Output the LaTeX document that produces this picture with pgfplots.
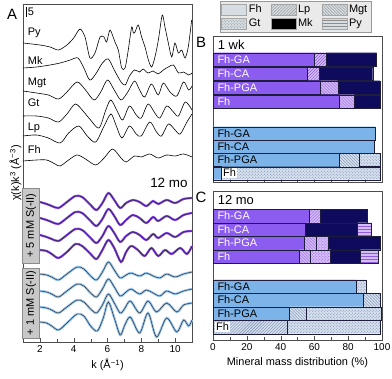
\documentclass[border=0pt]{standalone}
\usepackage{fontspec}
\setmainfont{Liberation Sans}
\usepackage{pgfplots}
\pgfplotsset{compat=1.18}
\usepackage{pgfplotstable}
\usetikzlibrary{patterns}

\definecolor{pfill}{RGB}{140,92,240}
\definecolor{pnavy}{RGB}{14,10,92}
\definecolor{pbg}{RGB}{214,188,248}
\definecolor{pline}{RGB}{140,92,220}
\definecolor{bfill}{RGB}{124,180,234}
\definecolor{bbg}{RGB}{214,224,238}
\definecolor{bline}{RGB}{120,140,175}
\definecolor{pcurve}{RGB}{126,62,228}
\definecolor{bcurve}{RGB}{150,198,240}
\definecolor{tagbg}{RGB}{200,200,200}
\definecolor{legbg}{RGB}{234,234,234}
\definecolor{fhgray}{RGB}{214,222,228}
\definecolor{bordc}{RGB}{30,30,60}

% sample spectra (offset, arbitrary units)
\pgfplotstableread{
k y
2.0 140
2.4 138
2.7 136
3.1 134
3.6 140
4.1 146
4.5 145
5.0 137
5.35 132
5.7 139
6.05 149
6.4 142
6.75 134
7.1 139
7.5 142
7.9 140
8.3 136
8.7 141
9.0 138
9.5 142
10.0 139
10.5 143
11.0 144
}\spA
\pgfplotstableread{
k y
2.0 124
2.4 122
2.7 120
3.1 118
3.6 124
4.1 130
4.5 129
5.0 121
5.35 116
5.7 123
6.05 133
6.4 126
6.75 117
7.1 122
7.5 127
7.9 124
8.3 119
8.7 125
9.0 121
9.5 126
10.0 122
10.5 127
11.0 129
}\spB
\pgfplotstableread{
k y
2.0 107
2.4 105
2.7 103
3.1 101
3.6 107
4.1 113
4.5 112
5.0 104
5.35 99
5.7 106
6.05 116
6.4 109
6.75 100
7.1 106
7.5 110
7.9 107
8.3 102
8.7 108
9.0 104
9.5 109
10.0 105
10.5 110
11.0 111
}\spC
\pgfplotstableread{
k y
2.0 92
2.4 91
2.7 88
3.1 84
3.6 90
4.1 98
4.5 96
5.0 88
5.35 83
5.7 92
6.05 102
6.4 94
6.8 80
7.1 90
7.4 96
7.8 92
8.2 86
8.6 94
9.0 86
9.4 92
9.8 88
10.3 94
10.7 88
11.0 96
}\spD
\pgfplotstableread{
k y
2.0 68
2.4 67
2.7 65
3.1 62
3.6 68
4.2 75
4.6 73
5.0 66
5.35 62
5.7 70
6.05 80
6.4 72
6.75 64
7.1 67
7.4 69
7.9 66
8.3 69
8.7 66
9.1 64
9.5 68
10.0 65
10.5 68
11.0 70
}\sbA
\pgfplotstableread{
k y
2.0 51
2.4 50
2.7 48
3.1 45
3.6 51
4.2 58
4.6 56
5.0 49
5.35 45
5.7 53
6.05 63
6.4 55
6.75 46
7.1 50
7.4 53
7.9 48
8.3 52
8.7 49
9.1 46
9.5 51
10.0 48
10.5 51
11.0 53
}\sbB
\pgfplotstableread{
k y
2.0 35
2.4 34
2.7 32
3.1 29
3.6 35
4.2 42
4.6 40
5.0 33
5.35 29
5.7 37
6.05 48
6.4 39
6.75 29
7.0 33
7.35 41
7.9 29
8.4 41
8.9 30
9.5 39
10.1 30
10.5 37
11.0 39
}\sbC
\pgfplotstableread{
k y
2.0 20
2.4 19
2.7 16
3.1 12
3.6 19
4.2 28
4.6 26
5.0 16
5.4 11
5.75 24
6.05 40
6.4 24
6.75 7
7.0 16
7.35 25
7.9 9
8.4 29
8.9 5
9.5 24
10.1 10
10.5 22
10.8 16
11.0 22
}\sbD

\pgfplotsset{
  common/.style={scale only axis, anchor=south west, width=169bp,
    axis line style={black!70}, tick style={black!70},
    tick align=inside, xtick pos=left, ytick=\empty,
    major tick length=4bp, minor tick length=2.5bp,
    /pgf/number format/assume math mode=true,
    tick label style={font=\fontsize{10}{12}\selectfont},
    label style={font=\fontsize{11}{13}\selectfont},
    clip=false},
  barax/.style={common, xbar stacked, bar width=13.5,
    xmin=0, xmax=100, ymin=0, xtick={0,20,...,100}, minor x tick num=1},
  labax/.style={scale only axis, anchor=south west, width=169bp, hide axis,
    xmin=0, xmax=100, ymin=0, clip=false},
  segm/.style={draw=bordc, line width=0.4pt},
  Pfh/.style={segm, fill=pfill},
  Plp/.style={segm, fill=pbg, postaction={pattern=north east lines, pattern color=pline}},
  Pmg/.style={segm, fill=pbg, postaction={pattern=north west lines, pattern color=pline}},
  Pgt/.style={segm, fill=pbg, postaction={pattern=crosshatch dots, pattern color=pline}},
  Pmk/.style={segm, fill=pnavy},
  Ppy/.style={segm, fill=pbg, postaction={pattern=horizontal lines, pattern color=pline}},
  Bfh/.style={segm, fill=bfill},
  Blp/.style={segm, fill=bbg, postaction={pattern=north east lines, pattern color=bline}},
  Bmg/.style={segm, fill=bbg, postaction={pattern=north west lines, pattern color=bline}},
  Bgt/.style={segm, fill=bbg, postaction={pattern=crosshatch dots, pattern color=bline}},
  fitP/.style={pcurve, line width=2.2pt, smooth, tension=0.5},
  fitB/.style={bcurve, line width=2.4pt, smooth, tension=0.5},
  dat/.style={black!85, line width=0.45pt, smooth, tension=0.5},
  ref/.style={black, line width=0.6pt, smooth, tension=0.5},
}
\tikzset{barlab/.style={anchor=west, font=\fontsize{11}{12}\selectfont}}

\begin{document}
\begin{tikzpicture}
\useasboundingbox (0,0) rectangle (392bp,379bp);

% ---------------- panel A ----------------
\begin{axis}[common, at={(23bp,37bp)}, height=338bp,
  xmin=1, xmax=11, ymin=0, ymax=338,
  xtick={2,4,...,10}, minor xtick={3,5,7,9},
  xlabel={k (Å\textsuperscript{−1})},
  ylabel={χ(k)k\textsuperscript{3} (Å\textsuperscript{−3})},
  ylabel style={yshift=-2bp}]

% references
\addplot[ref, tension=0.45] coordinates {
(1.0,299)(2.0,297)(2.6,295)(3.1,292)(3.6,297)(4.0,304)(4.37,313)(4.67,305)
(4.96,284)(5.26,289)(5.56,305)(5.79,305)(5.95,300)(6.15,312)(6.44,300)
(6.64,292)(6.84,274)(7.04,274)(7.23,292)(7.43,315)(7.53,309)(7.63,310)
(7.82,317)(8.02,305)(8.22,295)(8.42,282)(8.61,275)(8.81,285)(9.01,302)
(9.24,327)(9.40,315)(9.60,299)(9.80,285)(9.99,299)(10.19,289)(10.39,292)
(10.59,284)(10.78,295)(10.98,322)};
\addplot[ref] coordinates {
(1.0,274)(1.8,275)(2.6,277)(3.2,279)(3.8,282)(4.25,284)(4.6,274)(4.95,262)
(5.3,268)(5.7,279)(6.05,283)(6.4,272)(6.8,260)(7.05,257)(7.3,266)(7.6,272)
(7.9,270)(8.1,273)(8.4,269)(8.7,271)(9.0,268)(9.3,272)(9.6,275)(9.9,277)
(10.2,269)(10.5,270)(10.8,267)(11.0,269)};
\addplot[ref] coordinates {
(1.0,251)(1.8,249)(2.5,247)(3.1,243)(3.6,250)(4.2,260)(4.7,252)(5.2,242)
(5.6,250)(6.0,262)(6.4,252)(6.8,242)(7.2,250)(7.6,261)(7.9,252)(8.2,245)
(8.6,258)(9.0,247)(9.3,259)(9.7,250)(10.1,246)(10.5,260)(10.8,252)(11.0,256)};
\addplot[ref] coordinates {
(1.0,226)(1.8,226)(2.5,224)(3.1,220)(3.6,228)(4.1,238)(4.6,230)(5.0,222)
(5.5,214)(5.9,232)(6.2,242)(6.6,230)(6.9,222)(7.3,236)(7.7,227)(8.0,224)
(8.4,238)(8.8,229)(9.1,224)(9.5,236)(9.9,230)(10.2,226)(10.6,240)(11.0,232)};
\addplot[ref] coordinates {
(1.0,206)(1.8,207)(2.5,204)(3.2,199)(3.7,209)(4.3,216)(4.8,206)(5.3,200)
(5.8,216)(6.2,228)(6.5,217)(6.85,204)(7.3,216)(7.7,208)(8.0,206)(8.5,220)
(8.9,210)(9.2,206)(9.6,218)(10.0,212)(10.3,208)(10.7,220)(11.0,228)};
\addplot[ref] coordinates {
(1.0,181)(1.8,182)(2.4,182)(2.9,178)(3.2,176)(3.7,182)(4.2,187)(4.7,183)
(5.3,177)(5.8,184)(6.3,193)(6.8,184)(7.1,180)(7.6,186)(8.0,185)(8.5,188)
(9.0,184)(9.5,187)(10.0,186)(10.5,188)(11.0,185)};

% samples: fit (thick colour) with data (thin black)
\addplot[fitP] table[x=k,y=y]{\spA};
\addplot[dat] table[x=k,y=y]{\spA};
\addplot[fitP] table[x=k,y=y]{\spB};
\addplot[dat] table[x=k,y=y]{\spB};
\addplot[fitP] table[x=k,y=y]{\spC};
\addplot[dat] table[x=k,y=y]{\spC};
\addplot[fitP] table[x=k,y=y]{\spD};
\addplot[dat] table[x=k,y=y]{\spD};
\addplot[fitB] table[x=k,y=y]{\sbA};
\addplot[dat] table[x=k,y=y]{\sbA};
\addplot[fitB] table[x=k,y=y]{\sbB};
\addplot[dat] table[x=k,y=y]{\sbB};
\addplot[fitB] table[x=k,y=y]{\sbC};
\addplot[dat] table[x=k,y=y]{\sbC};
\addplot[fitB] table[x=k,y=y]{\sbD};
\addplot[dat] table[x=k,y=y]{\sbD};

\begin{scope}[font=\fontsize{11}{12}\selectfont]
\node[anchor=west] at (axis cs:1.08,309) {Py};
\node[anchor=west] at (axis cs:1.08,281) {Mk};
\node[anchor=west] at (axis cs:1.08,259) {Mgt};
\node[anchor=west] at (axis cs:1.08,239) {Gt};
\node[anchor=west] at (axis cs:1.08,214) {Lp};
\node[anchor=west] at (axis cs:1.08,192) {Fh};
\draw[black, line width=0.6pt] (axis cs:1.18,325) -- (axis cs:1.18,335);
\node[anchor=west, inner sep=1bp] at (axis cs:1.22,330) {5};
\draw[black!45, fill=tagbg] (axis cs:0.96,79) rectangle (axis cs:1.98,154);
\node[rotate=90] at (axis cs:1.47,116.5) {+ 5 mM S(-II)};
\draw[black!45, fill=tagbg] (axis cs:0.96,4) rectangle (axis cs:1.98,74);
\node[rotate=90] at (axis cs:1.47,39) {+ 1 mM S(-II)};
\end{scope}
\node[anchor=east, font=\fontsize{13.5}{15}\selectfont] at (axis cs:10.95,159) {12 mo};
\end{axis}

% ---------------- panel B, 5 mM rows (with frame) ----------------
\begin{axis}[barax, at={(213bp,197bp)}, height=146bp, ymax=146, xticklabels={}]
\addplot[Pfh] coordinates {(60.0,122.5)(55.8,108.5)(63.7,94.5)(74.8,80.5)};
\addplot[Plp] coordinates {(6.9,122.5)(6.9,108.5)(0,94.5)(0,80.5)};
\addplot[Pmg] coordinates {(0,122.5)(0,108.5)(10.1,94.5)(8.8,80.5)};
\addplot[Pmk] coordinates {(29.9,122.5)(31.8,108.5)(25.0,94.5)(15.2,80.5)};
\end{axis}
% panel B, 1 mM rows
\begin{axis}[barax, at={(213bp,197bp)}, height=146bp, ymax=146, hide axis]
\addplot[Bfh] coordinates {(95.9,48.5)(95.3,35.5)(74.8,22)(5.1,9)};
\addplot[Bmg] coordinates {(0,48.5)(0,35.5)(11.8,22)(0,9)};
\addplot[Bgt] coordinates {(0,48.5)(0,35.5)(12.2,22)(93.7,9)};
\end{axis}
% panel B: row names and legend
\begin{axis}[labax, at={(213bp,197bp)}, height=146bp, ymax=146,
  legend columns=3, legend cell align=left,
  legend style={at={(0.04,1.027)}, anchor=south west, draw=black!40,
    fill=legbg, font=\fontsize{11}{12}\selectfont, inner sep=1.5bp,
    row sep=0.5bp, /tikz/every even column/.append style={column sep=7bp}},
  legend image code/.code={\draw[#1] (0bp,-5.5bp) rectangle (25bp,5.5bp);}]
\addlegendimage{draw=black!35, fill=fhgray}
\addlegendentry{Fh}
\addlegendimage{draw=black!35, fill=fhgray, postaction={pattern=north east lines, pattern color=black!45}}
\addlegendentry{Lp}
\addlegendimage{draw=black!35, fill=fhgray, postaction={pattern=north west lines, pattern color=black!45}}
\addlegendentry{Mgt}
\addlegendimage{draw=black!35, fill=fhgray, postaction={pattern=crosshatch dots, pattern color=black!45}}
\addlegendentry{Gt}
\addlegendimage{draw=black!35, fill=black}
\addlegendentry{Mk}
\addlegendimage{draw=black!35, fill=fhgray, postaction={pattern=horizontal lines, pattern color=black!45}}
\addlegendentry{Py}
\node[barlab, text=white] at (axis cs:0.6,122.5) {Fh-GA};
\node[barlab, text=white] at (axis cs:0.6,108.5) {Fh-CA};
\node[barlab, text=white] at (axis cs:0.6,94.5) {Fh-PGA};
\node[barlab, text=white] at (axis cs:0.6,80.5) {Fh};
\node[barlab] at (axis cs:0.6,48.5) {Fh-GA};
\node[barlab] at (axis cs:0.6,35.5) {Fh-CA};
\node[barlab] at (axis cs:0.6,22) {Fh-PGA};
\node[barlab, fill=white, inner sep=1bp] at (axis cs:5.3,9) {Fh};
\node[anchor=west, font=\fontsize{13}{15}\selectfont] at (axis cs:0.8,137) {1 wk};
\end{axis}

% ---------------- panel C, 5 mM rows (with frame) ----------------
\begin{axis}[barax, at={(213bp,39bp)}, height=149bp, ymax=149,
  xlabel={Mineral mass distribution (\%)}]
\addplot[Pfh] coordinates {(57.0,124)(54.8,110.5)(54.0,97)(51.1,83.5)};
\addplot[Plp] coordinates {(6.7,124)(0,110.5)(0,97)(0,83.5)};
\addplot[Pmg] coordinates {(0,124)(0,110.5)(6.9,97)(6.7,83.5)};
\addplot[Pgt] coordinates {(0,124)(0,110.5)(7.0,97)(11.8,83.5)};
\addplot[Pmk] coordinates {(27.8,124)(30.8,110.5)(30.9,97)(17.4,83.5)};
\addplot[Ppy] coordinates {(0,124)(8.3,110.5)(0,97)(10.8,83.5)};
\end{axis}
% panel C, 1 mM rows
\begin{axis}[barax, at={(213bp,39bp)}, height=149bp, ymax=149, hide axis]
\addplot[Bfh] coordinates {(85.0,53.5)(89.0,40)(45.2,26.5)(0,13)};
\addplot[Blp] coordinates {(0,53.5)(0,40)(0,26.5)(44.0,13)};
\addplot[Bmg] coordinates {(0,53.5)(9.8,40)(9.8,26.5)(0,13)};
\addplot[Bgt] coordinates {(5.9,53.5)(0,40)(44.8,26.5)(54.8,13)};
\end{axis}
% panel C: row names
\begin{axis}[labax, at={(213bp,39bp)}, height=149bp, ymax=149]
\node[barlab, text=white] at (axis cs:0.6,124) {Fh-GA};
\node[barlab, text=white] at (axis cs:0.6,110.5) {Fh-CA};
\node[barlab, text=white] at (axis cs:0.6,97) {Fh-PGA};
\node[barlab, text=white] at (axis cs:0.6,83.5) {Fh};
\node[barlab] at (axis cs:0.6,53.5) {Fh-GA};
\node[barlab] at (axis cs:0.6,40) {Fh-CA};
\node[barlab] at (axis cs:0.6,26.5) {Fh-PGA};
\node[barlab, fill=white, inner sep=1bp] at (axis cs:1.2,13) {Fh};
\node[anchor=west, font=\fontsize{13}{15}\selectfont] at (axis cs:0.8,140) {12 mo};
\end{axis}

\node[font=\fontsize{15}{16}\selectfont] at (12bp,365bp) {A};
\node[font=\fontsize{15}{16}\selectfont] at (201bp,337bp) {B};
\node[font=\fontsize{15}{16}\selectfont] at (201bp,182bp) {C};
\end{tikzpicture}
\end{document}
